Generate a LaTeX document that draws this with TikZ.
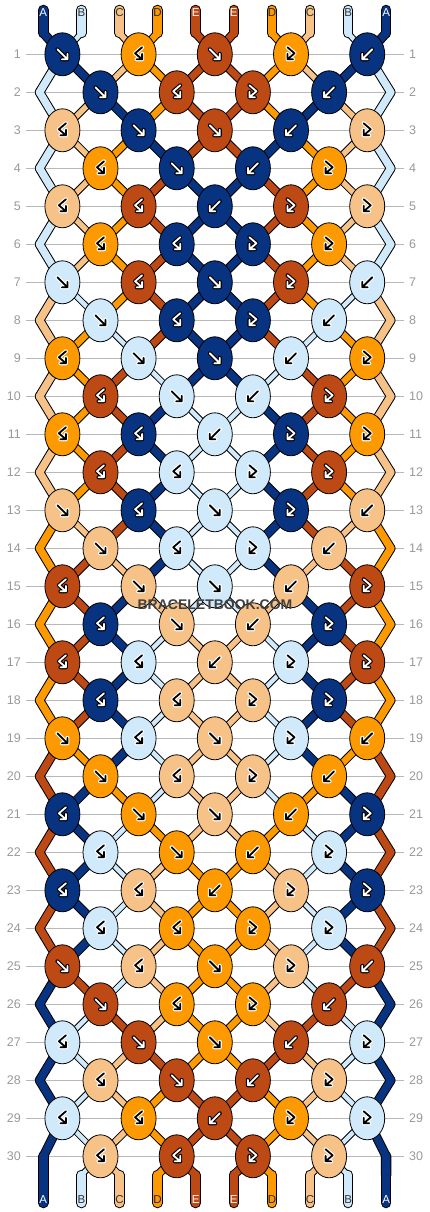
\documentclass[tikz,border=0pt]{standalone}
\usepackage{fontspec}
\setmainfont{Liberation Sans}
\usetikzlibrary{shapes.geometric}
\definecolor{thA}{HTML}{073381}
\definecolor{thB}{HTML}{D0EAFB}
\definecolor{thC}{HTML}{F6C287}
\definecolor{thD}{HTML}{FD9A02}
\definecolor{thE}{HTML}{BD4914}
\definecolor{rowgray}{HTML}{B8B8B8}
\definecolor{numgray}{HTML}{9A9A9A}

% strand widths, glyph colours, glyph outline colours and label colours per thread
\def\wthA{7.5}\def\wthB{4.5}\def\wthC{5.5}\def\wthD{6.5}\def\wthE{7}
\def\gthA{white}\def\gthB{black}\def\gthC{black}\def\gthD{black}\def\gthE{white}
\def\othA{black}\def\othB{white}\def\othC{white}\def\othD{white}\def\othE{black}
\def\lthA{white}\def\lthB{black!80}\def\lthC{black!80}\def\lthD{black!85}\def\lthE{white}

% knot types of one row: 1 = forward, 2 = backward, 3 = forward-backward, 4 = backward-forward
\newcommand{\rowtypes}[1]{\ifcase#1 1,4,1,3,2\or 1,4,3,2\or 4,1,1,2,3\or 4,1,2,3\or 4,4,2,3,3\or 4,4,3,3\fi}

% one piece of thread: from, to, colour, width (pass 1 = black rim, pass 2 = colour)
\newcommand{\strand}[4]{%
  \ifnum\pass=1 \draw[line width=#4pt+2pt, black, line cap=round] (#1) -- (#2);\fi
  \ifnum\pass=2 \draw[line width=#4pt, #3, line cap=round] (#1) -- (#2);\fi}

\tikzset{
    knot/.style={ellipse, draw=black, line width=0.8pt, minimum width=35pt,
                 minimum height=43pt, inner sep=0pt},
    rowline/.style={draw=rowgray, line width=0.9pt},
    rownum/.style={text=numgray, font=\fontsize{12.5}{12.5}\selectfont, inner sep=0pt},
    letter/.style={font=\fontsize{11.5}{11.5}\selectfont, inner sep=0pt},
    glyph/.style={line cap=round, line join=round},
    pics/g1/.style={code={\path[pic actions] (-5,-5) -- (5,5) (5,-0.5) -- (5,5) -- (-0.5,5);}},
    pics/g2/.style={code={\path[pic actions] (5,-5) -- (-5,5) (-5,-0.5) -- (-5,5) -- (0.5,5);}},
    pics/g3/.style={code={\path[pic actions] (-3.5,-7) -- (3.5,-1) -- (-3.5,5) (-3.5,-0.5) -- (-3.5,5) -- (2,5);}},
    pics/g4/.style={code={\path[pic actions] (3.5,-7) -- (-3.5,-1) -- (3.5,5) (3.5,-0.5) -- (3.5,5) -- (-2,5);}},
}

% the whole weave; #1 is the pass
\newcommand{\weave}[1]{%
\def\pass{#1}%
% threads at the top
\foreach \slot/\tc/\lab in {0/thA/A,1/thB/B,2/thC/C,3/thD/D,4/thE/E,5/thE/E,6/thD/D,7/thC/C,8/thB/B,9/thA/A}{
  \pgfmathsetmacro{\sx}{43.3+38.1*\slot}
  \coordinate (tip\slot) at (\sx,10);
  \coordinate (top\slot) at (\sx,33);
  \strand{tip\slot}{top\slot}{\tc}{8.5}
  \edef\lc{\csname l\tc\endcsname}
  \ifnum\pass=3 \node[letter, text=\lc] (lblT\slot) at (\sx,13) {\lab};\fi
  \expandafter\xdef\csname sc\slot\endcsname{\tc}
  \expandafter\xdef\csname sn\slot\endcsname{top\slot}
}
% knots, row by row
\foreach \row in {1,...,30}{
  \pgfmathtruncatemacro{\rowmod}{mod(\row-1,6)}
  \pgfmathtruncatemacro{\rowoff}{1-mod(\row,2)}
  \pgfmathsetmacro{\rowy}{54.3+38*(\row-1)}
  \edef\types{\rowtypes{\rowmod}}
  \foreach \ty [count=\kn] in \types {
    \pgfmathtruncatemacro{\slotL}{2*(\kn-1)+\rowoff}
    \pgfmathtruncatemacro{\slotR}{\slotL+1}
    \edef\colL{\csname sc\slotL\endcsname}
    \edef\colR{\csname sc\slotR\endcsname}
    \edef\fromL{\csname sn\slotL\endcsname}
    \edef\fromR{\csname sn\slotR\endcsname}
    \edef\wLc{\csname w\colL\endcsname}
    \edef\wRc{\csname w\colR\endcsname}
    \pgfmathsetmacro{\wL}{(\slotL==0 && \row>1) ? 7.5 : \wLc}
    \pgfmathsetmacro{\wR}{(\slotR==9 && \row>1) ? 7.5 : \wRc}
    \ifodd\ty\relax \edef\kc{\colL}\else \edef\kc{\colR}\fi
    \edef\gc{\csname g\kc\endcsname}
    \edef\oc{\csname o\kc\endcsname}
    \coordinate (c\row-\kn) at ({62.4+38.1*\slotL},\rowy);
    \ifnum\pass=3
      \node[knot, fill=\kc] (k\row-\kn) at (c\row-\kn) {};
      \pic[glyph, draw=\oc, line width=4pt] at (c\row-\kn) {g\ty};
      \pic[glyph, draw=\gc, line width=1.8pt] at (c\row-\kn) {g\ty};
    \fi
    \strand{\fromL}{c\row-\kn}{\colL}{\wL}
    \strand{\fromR}{c\row-\kn}{\colR}{\wR}
    \ifnum\ty<3
      \expandafter\xdef\csname sc\slotL\endcsname{\colR}
      \expandafter\xdef\csname sc\slotR\endcsname{\colL}
    \fi
    \expandafter\xdef\csname sn\slotL\endcsname{c\row-\kn}
    \expandafter\xdef\csname sn\slotR\endcsname{c\row-\kn}
  }
  % free threads at the edges
  \ifodd\row\else
    \pgfmathsetmacro{\exL}{\row==30 ? 43.3 : 39.5}
    \pgfmathsetmacro{\exR}{\row==30 ? 386.2 : 390.8}
    \coordinate (eL\row) at (\exL,\rowy);
    \coordinate (eR\row) at (\exR,\rowy);
    \edef\colL{\csname sc0\endcsname}
    \edef\colR{\csname sc9\endcsname}
    \edef\fromL{\csname sn0\endcsname}
    \edef\fromR{\csname sn9\endcsname}
    \strand{\fromL}{eL\row}{\colL}{7.5}
    \strand{\fromR}{eR\row}{\colR}{7.5}
    \expandafter\xdef\csname sn0\endcsname{eL\row}
    \expandafter\xdef\csname sn9\endcsname{eR\row}
  \fi
}
% threads at the bottom
\foreach \slot/\lab in {0/A,1/B,2/C,3/D,4/E,5/E,6/D,7/C,8/B,9/A}{
  \pgfmathsetmacro{\sx}{43.3+38.1*\slot}
  \coordinate (bot\slot) at (\sx,1175);
  \coordinate (end\slot) at (\sx,1203);
  \edef\tc{\csname sc\slot\endcsname}
  \edef\from{\csname sn\slot\endcsname}
  \edef\wc{\csname w\tc\endcsname}
  \pgfmathsetmacro{\bw}{(\slot==0 || \slot==9) ? 8.5 : \wc}
  \strand{\from}{bot\slot}{\tc}{\bw}
  \strand{bot\slot}{end\slot}{\tc}{8.5}
  \edef\lc{\csname l\tc\endcsname}
  \ifnum\pass=3 \node[letter, text=\lc] (lblB\slot) at (\sx,1200) {\lab};\fi
}}

\begin{document}
\begin{tikzpicture}[x=1pt, y=-1pt]
\useasboundingbox (0,0) rectangle (430,1212);
\fill[white] (0,0) rectangle (430,1212);

% row lines and row numbers
\foreach \row in {1,...,30}{
  \pgfmathsetmacro{\rowy}{54.3+38*(\row-1)}
  \draw[rowline] (26,\rowy) -- (404,\rowy);
  \node[rownum, anchor=east] (numL\row) at (21,\rowy) {\row};
  \node[rownum, anchor=west] (numR\row) at (409,\rowy) {\row};
}

\weave{1}
\weave{2}
\weave{3}

\node[font=\bfseries\fontsize{14}{14}\selectfont, text=black!75] (mark) at (215,605) {BRACELETBOOK.COM};
\end{tikzpicture}
\end{document}
